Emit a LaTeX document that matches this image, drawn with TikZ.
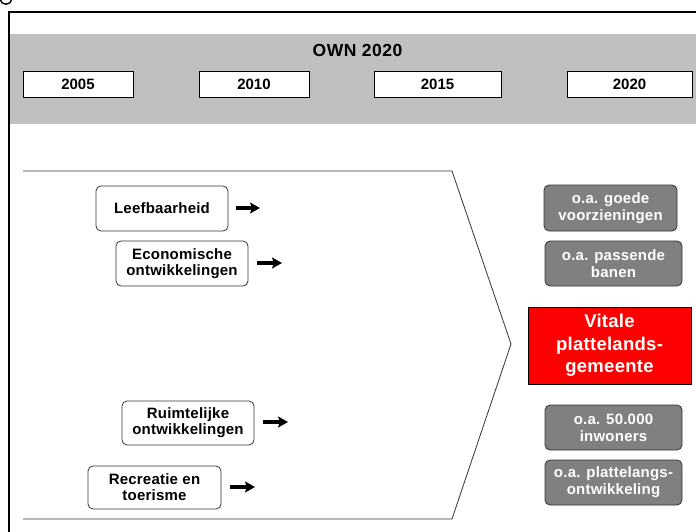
\documentclass[tikz,border=0pt]{standalone}
\usepackage{fontspec}
\setmainfont{Liberation Sans}
\usetikzlibrary{arrows.meta}

\newfontfamily\boxfont[LetterSpace=1.5]{Liberation Sans}
\newfontfamily\titlefont[LetterSpace=3]{Liberation Sans}

\definecolor{bandgray}{HTML}{C0C0C0}
\definecolor{boxgray}{HTML}{808080}
\definecolor{edgegray}{HTML}{333333}

\tikzset{
  yearbox/.style={draw=black, line width=0.8pt, fill=white, inner sep=0pt,
    font=\bfseries\fontsize{15}{16}\selectfont},
  factor/.style={draw=edgegray, line width=0.8pt, fill=white, rounded corners=5pt,
    inner sep=0pt, align=center,
    font=\boxfont\bfseries\fontsize{15}{16}\selectfont},
  goal/.style={draw=edgegray, line width=0.8pt, fill=boxgray, rounded corners=5pt,
    inner sep=0pt, align=center, text=white,
    font=\boxfont\bfseries\fontsize{15}{17}\selectfont},
  target/.style={draw=black, line width=0.8pt, fill=red, inner sep=0pt,
    align=center, text=white,
    font=\boxfont\bfseries\fontsize{18.5}{22.5}\selectfont},
  push/.style={line width=3.6pt, -{Stealth[length=10pt,width=11pt,inset=2pt]}},
  outline/.style={draw=edgegray, line width=0.8pt},
}

\begin{document}
\begin{tikzpicture}[x=1pt, y=-1pt]
\useasboundingbox (0,0) rectangle (696,532);

% fragment of a glyph in the upper left corner
\draw[line width=1.4pt] (0.5,-1) .. controls (1,6) and (11,6) .. (11.5,-1);

% header band
\fill[bandgray] (10,34) rectangle (696,124);
% outer frame (top and left edges)
\draw[line width=2pt] (696,12) -- (9,12) -- (9,532);

\node[font=\titlefont\bfseries\fontsize{17.5}{18}\selectfont] (title) at (357.5,50) {OWN 2020};

\node[yearbox, minimum width=110pt, minimum height=26pt] (y2005) at (78,84) {2005};
\node[yearbox, minimum width=110pt, minimum height=26pt] (y2010) at (254,84) {2010};
\node[yearbox, minimum width=127pt, minimum height=26pt] (y2015) at (437.5,84) {2015};
\node[yearbox, minimum width=125pt, minimum height=26pt] (y2020) at (629.5,84) {2020};

% chevron
\draw[outline] (23,171) -- (452,171) -- (511,344) -- (452,519) -- (23,519);

% driving factors
\node[factor, minimum width=132pt, minimum height=45pt] (leef) at (162,208.5) {Leefbaarheid};
\node[factor, minimum width=132pt, minimum height=45pt] (econ) at (182,263.5) {Economische\\ontwikkelingen};
\node[factor, minimum width=132pt, minimum height=44pt] (ruimte) at (188,423) {Ruimtelijke\\ontwikkelingen};
\node[factor, minimum width=133pt, minimum height=43pt] (recr) at (154.5,487.5) {Recreatie en\\toerisme};

\coordinate (leefA) at (236,208);   \coordinate (leefB) at (260,208);
\coordinate (econA) at (257,263);   \coordinate (econB) at (282,263);
\coordinate (ruimteA) at (263,422); \coordinate (ruimteB) at (288,422);
\coordinate (recrA) at (230,487);   \coordinate (recrB) at (255,487);
\draw[push] (leefA) -- (leefB);
\draw[push] (econA) -- (econB);
\draw[push] (ruimteA) -- (ruimteB);
\draw[push] (recrA) -- (recrB);

% outcomes
\node[goal, minimum width=133pt, minimum height=46pt] (goede) at (610.5,208) {o.a. goede\\voorzieningen};
\node[goal, minimum width=137pt, minimum height=45pt] (banen) at (613.5,263.5) {o.a. passende\\banen};
\node[target, minimum width=163pt, minimum height=77pt] (vitaal) at (609.5,345.5) {Vitale\\plattelands-\\gemeente};
\node[goal, minimum width=137pt, minimum height=45pt] (inwoners) at (613.5,427.5) {o.a. 50.000\\inwoners};
\node[goal, minimum width=137pt, minimum height=45pt] (platte) at (613.5,482.5) {o.a. plattelangs-\\ontwikkeling};

\end{tikzpicture}
\end{document}
